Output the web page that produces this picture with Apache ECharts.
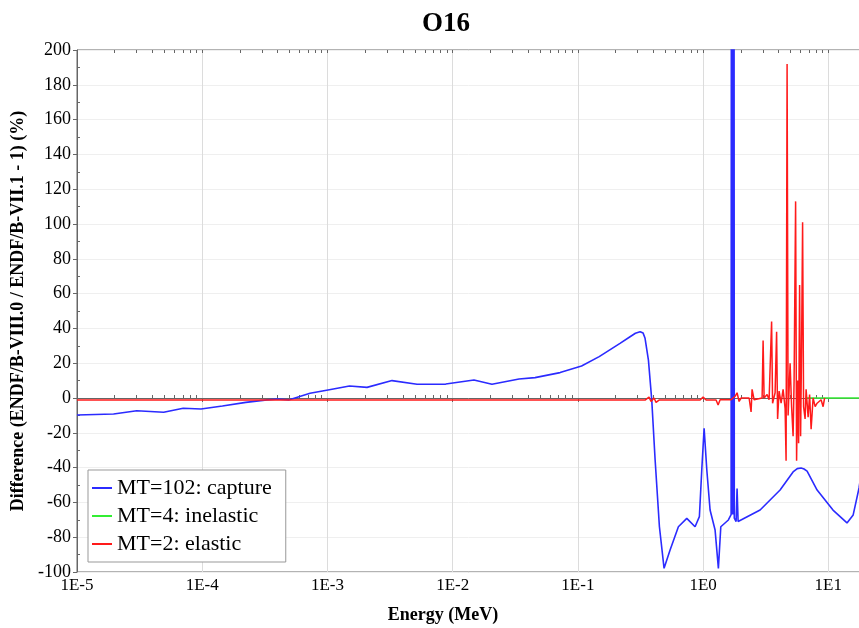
<!DOCTYPE html>
<html><head><meta charset="utf-8">
<script src="https://cdn.jsdelivr.net/npm/echarts@6/dist/echarts.min.js"></script>
<style>html,body{margin:0;padding:0;background:#fff}#c{width:859px;height:628px}</style>
</head><body><div id="c"></div>
<script>
const titleText = 'O16';
const xAxisName = 'Energy (MeV)';
const yAxisName = 'Difference (ENDF/B-VIII.0 / ENDF/B-VII.1 - 1) (%)';
const xTickLabels = ['1E-5', '1E-4', '1E-3', '1E-2', '1E-1', '1E0', '1E1'];
const seriesNames = ['MT=102: capture', 'MT=4: inelastic', 'MT=2: elastic'];

// MT=102 capture (energy in MeV, difference in %)
const captureE = [1.00e-5, 1.96e-5, 3.00e-5, 4.92e-5, 7.05e-5, 9.78e-5, 1.45e-4, 2.23e-4, 3.29e-4, 4.02e-4,
  4.90e-4, 7.26e-4, 1.01e-3, 1.50e-3, 2.07e-3, 3.28e-3, 5.20e-3, 8.81e-3, 1.48e-2, 2.06e-2,
  3.39e-2, 4.55e-2, 7.21e-2, 0.107, 0.148, 0.217, 0.261, 0.288, 0.314, 0.332, 0.344, 0.366,
  0.389, 0.414, 0.448, 0.488, 0.545, 0.635, 0.741, 0.863, 0.934, 0.976,
  1.019, 1.071, 1.137, 1.247, 1.325, 1.385, 1.592, 1.674, 1.699, 1.724, 1.749, 1.775,
  1.835, 1.868, 1.904, 1.975, 2.853, 4.12, 5.23, 5.65, 6.06, 6.40, 6.77,
  8.14, 10.9, 14.1, 15.8, 17.6, 20];
const captureV = [-9.8, -9.2, -7.3, -8.2, -5.9, -6.3, -4.6, -2.5, -1.1, -0.6,
  -1.1, 2.7, 4.6, 6.9, 6.1, 10, 7.9, 8, 10.3, 7.9,
  10.9, 11.7, 14.6, 18.4, 23.8, 31.4, 35.2, 37.2, 38.1, 37.3, 34.3, 21.8,
  -1.1, -35.6, -74, -97.9, -87.4, -74, -69.2, -74, -68.2, -41.4,
  -17.4, -41.4, -64.4, -75.9, -97.9, -74, -70.1, -67, 1000, -67, 1000, -69,
  -71, -52, -71, -70, -64.4, -52.9, -42.5, -40.6, -40.2, -40.8, -42,
  -52.9, -64.4, -71.8, -67.2, -51.7, -24];

// MT=4 inelastic
const inelasticE = [6.77, 20];
const inelasticV = [0, 0];

// MT=2 elastic
const elasticE = [1e-5, 0.344, 0.370, 0.384, 0.406, 0.421, 0.445, 0.946, 1.0, 1.057,
  1.270, 1.318, 1.367, 1.673, 1.801, 1.868, 1.939, 2.012, 2.330, 2.417,
  2.462, 2.555, 2.960, 3.015, 3.071, 3.245, 3.366, 3.525, 3.590, 3.759,
  3.865, 3.936, 4.046, 4.198, 4.355, 4.519, 4.601, 4.687, 4.775, 4.954,
  5.092, 5.234, 5.331, 5.481, 5.582, 5.686, 5.792, 5.899, 6.009, 6.119,
  6.233, 6.347, 6.526, 6.648, 6.900, 7.09, 7.29, 7.56, 7.85, 8.14,
  8.44, 8.76, 9.09, 9.34];
const elasticV = [-1.2, -1.2, 0.5, -2, 0, -2.5, -1.2, -1.2, 0.5, -1.2,
  -1.2, -4, -1, -1, 1, 3, -2, 0, 0, -8,
  5, -1, 0, 33, 0, 2, -1, 44, -3, 3,
  38, -12, 4, -3, 5, -6, -36, 192, -10, 20,
  -5, -22, 10, 113, -36, 10, -26, 65, -22, 30,
  101, -5, -12, 5, -11, 2, -18, 0, -5, -3,
  -4, -1, -5, 0];

const pairs = (xs, ys) => xs.map((x, i) => [x, ys[i]]);

const majorX = [];
const minorX = [];
for (let e = -5; e <= 1; e++) {
  majorX.push(Math.pow(10, e));
  for (let m = 2; m <= 9; m++) {
    const v = m * Math.pow(10, e);
    if (v <= 20) minorX.push(v);
  }
}
const minorY = [];
for (let v = -90; v < 200; v += 20) minorY.push(v);

const serif = 'Liberation Serif';
const axisColor = '#666';

const chart = echarts.init(document.getElementById('c'), null, {renderer: 'canvas'});
chart.setOption({
  animation: false,
  backgroundColor: '#fff',
  title: {
    text: titleText, left: 417, top: 6,
    textStyle: {fontFamily: serif, fontWeight: 'bold', fontSize: 27, color: '#000'}
  },
  legend: {
    data: seriesNames, orient: 'vertical', left: 88, top: 470,
    icon: 'rect', itemWidth: 20, itemHeight: 2, itemGap: 6, itemStyle: {borderWidth: 0},
    padding: [7, 14, 7, 4], backgroundColor: '#fff', borderColor: '#999', borderWidth: 1,
    textStyle: {fontFamily: serif, fontSize: 22, color: '#000'}
  },
  grid: {left: 77, top: 50, right: -7, bottom: 56, outerBoundsMode: 'none', containLabel: false,
    show: true, borderColor: axisColor, borderWidth: 1},
  xAxis: [{
    type: 'log', logBase: 10, min: 1e-5, max: 20,
    name: xAxisName, nameLocation: 'middle', nameGap: 34,
    nameTextStyle: {fontFamily: serif, fontWeight: 'bold', fontSize: 18, color: '#000', padding: [0, 57, 0, 0]},
    axisLine: {show: true, lineStyle: {color: axisColor}},
    axisTick: {show: true, length: 4, lineStyle: {color: axisColor}},
    axisLabel: {
      fontFamily: serif, fontSize: 17, color: '#000', margin: 5,
      formatter: (v) => {
        const l = Math.log10(v), e = Math.round(l);
        if (Math.abs(l - e) > 1e-6) return '';
        return xTickLabels[e + 5] || '';
      }
    },
    splitLine: {show: true, lineStyle: {color: '#dcdcdc', width: 1}},
    minorTick: {show: false}
  }, {
    type: 'log', logBase: 10, min: 1e-5, max: 20, position: 'bottom',
    axisLine: {show: false}, axisLabel: {show: false}, splitLine: {show: false},
    axisTick: {show: true, inside: true, length: 3, customValues: minorX, lineStyle: {color: axisColor}}
  }, {
    type: 'log', logBase: 10, min: 1e-5, max: 20, position: 'top',
    axisLine: {show: false}, axisLabel: {show: false}, splitLine: {show: false},
    axisTick: {show: true, inside: true, length: 3, customValues: majorX.concat(minorX), lineStyle: {color: axisColor}}
  }],
  yAxis: [{
    type: 'value', min: -100, max: 200, interval: 20,
    name: yAxisName, nameLocation: 'middle', nameGap: 48, nameRotate: 90,
    nameTextStyle: {fontFamily: serif, fontWeight: 'bold', fontSize: 18, color: '#000'},
    axisLine: {show: true, lineStyle: {color: axisColor}},
    axisTick: {show: true, length: 4, lineStyle: {color: axisColor}},
    axisLabel: {fontFamily: serif, fontSize: 18, color: '#000', margin: 6},
    splitLine: {show: true, lineStyle: {color: '#efefef', width: 1}}
  }, {
    type: 'value', min: -100, max: 200, position: 'left',
    axisLine: {show: false}, axisLabel: {show: false}, splitLine: {show: false},
    axisTick: {show: true, inside: true, length: 3, customValues: minorY, lineStyle: {color: axisColor}}
  }],
  series: [{
    name: seriesNames[0], type: 'line', data: pairs(captureE, captureV),
    showSymbol: false, symbol: 'none', clip: true,
    lineStyle: {color: '#2b2bff', width: 1.6}, itemStyle: {color: '#2b2bff'}
  }, {
    name: seriesNames[1], type: 'line', data: pairs(inelasticE, inelasticV),
    showSymbol: false, symbol: 'none', clip: true,
    lineStyle: {color: '#33ee33', width: 1.6}, itemStyle: {color: '#33ee33'}
  }, {
    name: seriesNames[2], type: 'line', data: pairs(elasticE, elasticV),
    showSymbol: false, symbol: 'none', clip: true,
    lineStyle: {color: '#ff1a1a', width: 1.5}, itemStyle: {color: '#ff1a1a'}
  }]
});
</script></body></html>
